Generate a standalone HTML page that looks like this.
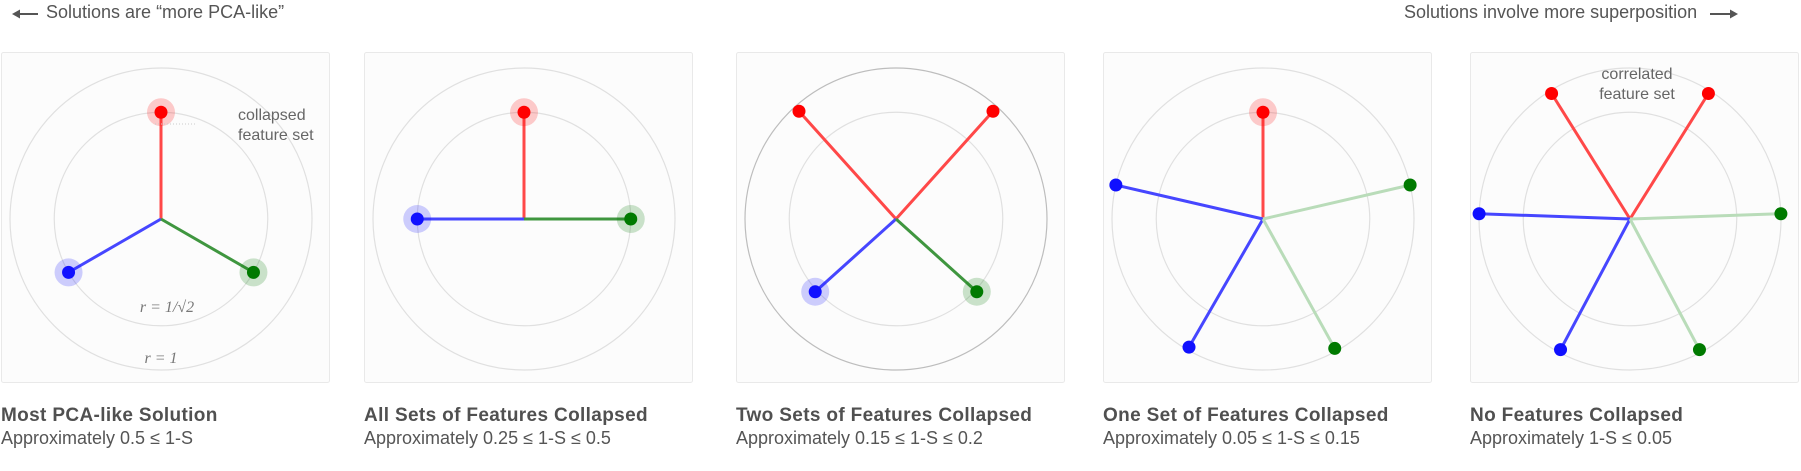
<!DOCTYPE html>
<html><head><meta charset="utf-8"><style>
body{margin:0;width:1801px;height:471px;background:#fff;font-family:"Liberation Sans",sans-serif;color:#555;overflow:hidden;position:relative}
.hdr{position:absolute;top:2px;font-size:18px;color:#555}
.cap{position:absolute;top:404px;font-size:18px;line-height:23px;color:#555}
.cap b{color:#505050;font-size:19px;letter-spacing:0.35px}
</style></head><body>
<svg width="32" height="20" style="position:absolute;left:10px;top:4px"><line x1="4" y1="10" x2="28" y2="10" stroke="#555" stroke-width="2"/><path d="M2 10 L10 5.5 L10 14.5 Z" fill="#555"/></svg>
<div class="hdr" style="left:46px">Solutions are “more PCA-like”</div>
<div class="hdr" style="left:1404px">Solutions involve more superposition</div>
<svg width="32" height="20" style="position:absolute;left:1708px;top:4px"><line x1="2" y1="10" x2="26" y2="10" stroke="#555" stroke-width="2"/><path d="M30 10 L22 5.5 L22 14.5 Z" fill="#555"/></svg>
<svg id="chart" width="1801" height="400" style="position:absolute;left:0;top:0"></svg>
<div id="caps"></div>
<script>
const panelLeft=[1,364,736,1103,1470];
const titles=["Most PCA-like Solution","All Sets of Features Collapsed","Two Sets of Features Collapsed","One Set of Features Collapsed","No Features Collapsed"];
const subtitles=["Approximately 0.5 ≤ 1-S","Approximately 0.25 ≤ 1-S ≤ 0.5","Approximately 0.15 ≤ 1-S ≤ 0.2","Approximately 0.05 ≤ 1-S ≤ 0.15","Approximately 1-S ≤ 0.05"];
// per panel: feature angle (deg), length (fraction of r=1), color, halo, faded
const angles=[[90,210,330],[90,180,0],[132,48,222,318],[90,167,240,13,299],[122,58,178,242,2,298]];
const lengths=[[0.707,0.707,0.707],[0.707,0.707,0.707],[0.96,0.96,0.72,0.72],[0.707,1,0.98,1,0.98],[0.98,0.98,1,0.98,1,0.98]];
const colors=[["r","b","g"],["r","b","g"],["r","r","b","g"],["r","b","b","g","g"],["r","r","b","b","g","g"]];
const halos=[[1,1,1],[1,1,1],[0,0,1,1],[1,0,0,0,0],[0,0,0,0,0,0]];
const faded=[[0,0,0],[0,0,0],[0,0,0,0],[0,0,0,1,1],[0,0,0,0,1,1]];
const COL={r:"#ff0000",b:"#1010ff",g:"#007a00"};
const LINE={r:"#ff4848",b:"#4646ff",g:"#3f963f"};
const NS="http://www.w3.org/2000/svg";
const svg=document.getElementById('chart');
const R=151, PW=328, PH=330, TOP=52, CX=160, CY=167;
function mk(t,a){const e=document.createElementNS(NS,t);for(const k in a)e.setAttribute(k,a[k]);return e;}
function px(p,ang,len){return panelLeft[p]+CX+Math.cos(ang*Math.PI/180)*len*R;}
function py(ang,len){return TOP+CY-Math.sin(ang*Math.PI/180)*len*R;}
panelLeft.forEach((L,p)=>{
  const g=mk('g',{});
  
  
  svg.appendChild(g);
  const box=mk('rect',{x:L+0.5,y:TOP+0.5,width:PW,height:PH,rx:2,fill:"#fcfcfc",stroke:"#e9e9e9"});
  
  
  g.appendChild(box);
  const cx=L+CX,cy=TOP+CY;
  const c1=mk('circle',{cx:cx,cy:cy,r:R,fill:"none",stroke:p==2?"#bdbdbd":"#e0e0e0","stroke-width":1.2});
  
  
  g.appendChild(c1);
  const c2=mk('circle',{cx:cx,cy:cy,r:R*0.707,fill:"none",stroke:"#e0e0e0","stroke-width":1.2});
  
  
  g.appendChild(c2);
  angles[p].forEach((a,i)=>{
    const x=px(p,a,lengths[p][i]),y=py(a,lengths[p][i]);const c=colors[p][i];
    const ln=mk('line',{x1:cx,y1:cy,x2:x,y2:y,stroke:faded[p][i]?"#b9dcb9":LINE[c],"stroke-width":3});
    
    
    g.appendChild(ln);
  });
  angles[p].forEach((a,i)=>{
    const x=px(p,a,lengths[p][i]),y=py(a,lengths[p][i]);const c=colors[p][i];
    if(halos[p][i]){const h=mk('circle',{cx:x,cy:y,r:14,fill:COL[c],opacity:0.2});
      
      
      g.appendChild(h);}
    const d=mk('circle',{cx:x,cy:y,r:6.5,fill:COL[c]});
    
    
    g.appendChild(d);
  });
});
function txt(x,y,s,attrs,name){const t=mk('text',Object.assign({x:x,y:y,fill:"#666","font-size":15,"font-family":"Liberation Sans, sans-serif"},attrs||{}));t.textContent=s;
  
  
  svg.appendChild(t);}
// annotations
const dl=mk('line',{x1:155,y1:124,x2:195,y2:124,stroke:"#ccc","stroke-dasharray":"1 2"});
svg.appendChild(dl);
txt(238,120,"collapsed",{"font-size":16},"annotation-collapsed");
txt(238,140,"feature set",{"font-size":16},"annotation-collapsed");
txt(1637,79,"correlated",{"text-anchor":"middle","font-size":16},"annotation-correlated");
txt(1637,99,"feature set",{"text-anchor":"middle","font-size":16},"annotation-correlated");
txt(167,312,"r = 1/√2",{"text-anchor":"middle","font-family":"Liberation Serif, serif","font-style":"italic","font-size":16,fill:"#777"},"radius-label-inner");
txt(161,363,"r = 1",{"text-anchor":"middle","font-family":"Liberation Serif, serif","font-style":"italic","font-size":16,fill:"#777"},"radius-label-outer");
const caps=document.getElementById('caps');
panelLeft.forEach((L,p)=>{
  const d=document.createElement('div');d.className='cap';d.style.left=L+'px';
  
  
  d.innerHTML='<b>'+titles[p]+'</b><br>'+subtitles[p];
  caps.appendChild(d);
});
</script>
</body></html>
